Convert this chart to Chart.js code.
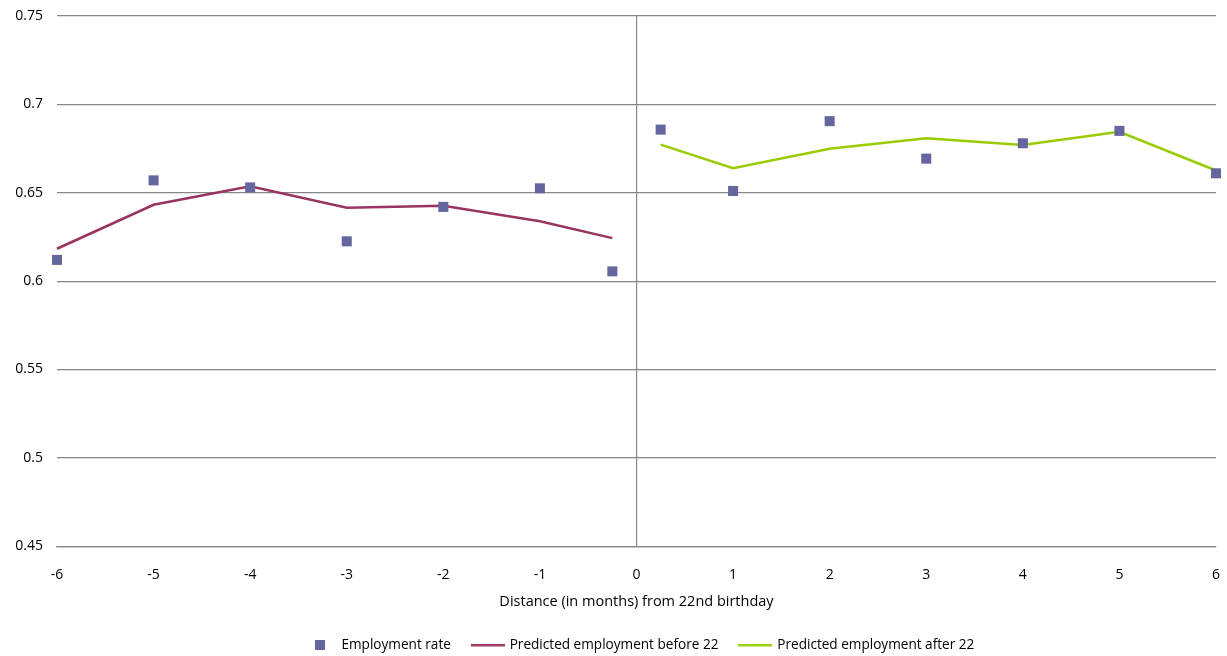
<!DOCTYPE html>
<html>
<head>
<meta charset="utf-8">
<script src="https://cdn.jsdelivr.net/npm/chart.js@4"></script>
<style>
  html, body { margin: 0; padding: 0; background: #ffffff; }
  #wrap { width: 1227px; height: 656px; }
</style>
</head>
<body>
<div id="wrap"><canvas id="chart" width="1227" height="656"></canvas></div>
<script>
// Months relative to the 22nd birthday
const months = [-6, -5, -4, -3, -2, -1, -0.25, 0.25, 1, 2, 3, 4, 5, 6];
const employmentRate = [0.612, 0.657, 0.653, 0.6225, 0.642, 0.6525, 0.6055,
                        0.6857, 0.651, 0.6905, 0.6693, 0.678, 0.685, 0.661];

const monthsBefore = [-6, -5, -4, -3, -2, -1, -0.25];
const predictedBefore = [0.6183, 0.6432, 0.6537, 0.6415, 0.6426, 0.6339, 0.6243];

const monthsAfter = [0.25, 1, 2, 3, 4, 5, 6];
const predictedAfter = [0.6772, 0.6639, 0.6749, 0.6808, 0.677, 0.6845, 0.6626];

const yMin = 0.45, yMax = 0.75, yStep = 0.05;
const xMin = -6, xMax = 6, xStep = 1;

const seriesNames = ['Employment rate', 'Predicted employment before 22', 'Predicted employment after 22'];
const markerColor = '#66669e';
const beforeColor = '#99335f';
const afterColor = '#99cc00';
const gridColor = '#878787';
const fontFamily = '"Open Sans", "Noto Sans", sans-serif';
const fontSize = 14;

const toPoints = (xs, ys) => xs.map((x, i) => ({ x: x, y: ys[i] }));

// Legend swatches: a small square for the scatter series, short strokes for the lines
function makeSwatch(w, h, draw) {
  const cv = document.createElement('canvas');
  cv.width = w; cv.height = h;
  draw(cv.getContext('2d'));
  return cv;
}
const squareSwatch = makeSwatch(10, 10, (c) => { c.fillStyle = markerColor; c.fillRect(0, 0, 10, 10); });
const lineSwatch = (color) => makeSwatch(34, 3, (c) => { c.fillStyle = color; c.fillRect(0, 0, 34, 2.5); });
const legendSwatches = [squareSwatch, lineSwatch(beforeColor), lineSwatch(afterColor)];

// Centre the legend under the plot area rather than the whole canvas
const legendUnderPlot = {
  id: 'legendUnderPlot',
  afterLayout(ch) {
    const lg = ch.legend;
    if (!lg) return;
    const shift = (ch.chartArea.left + ch.chartArea.right) / 2 - (lg.left + lg.right) / 2 + 3;
    lg.left += shift;
    lg.right += shift;
  }
};

const chart = new Chart(document.getElementById('chart'), {
  type: 'scatter',
  plugins: [legendUnderPlot],
  data: {
    datasets: [
      {
        label: seriesNames[0],
        data: toPoints(months, employmentRate),
        showLine: false,
        clip: false,
        pointStyle: 'rect',
        pointRadius: 7.1,
        pointHoverRadius: 7.1,
        pointBackgroundColor: markerColor,
        pointBorderWidth: 0,
        borderColor: markerColor,
        backgroundColor: markerColor
      },
      {
        label: seriesNames[1],
        data: toPoints(monthsBefore, predictedBefore),
        showLine: true,
        clip: false,
        borderColor: beforeColor,
        backgroundColor: beforeColor,
        borderWidth: 2.5,
        pointRadius: 0,
        tension: 0
      },
      {
        label: seriesNames[2],
        data: toPoints(monthsAfter, predictedAfter),
        showLine: true,
        clip: false,
        borderColor: afterColor,
        backgroundColor: afterColor,
        borderWidth: 2.5,
        pointRadius: 0,
        tension: 0
      }
    ]
  },
  options: {
    responsive: false,
    animation: false,
    layout: { padding: { top: 16, right: 11, left: 0, bottom: -6 } },
    plugins: {
      tooltip: { enabled: false },
      legend: {
        position: 'bottom',
        labels: {
          usePointStyle: true,
          pointStyleWidth: 30,
          boxHeight: 10,
          padding: 22,
          color: '#000000',
          font: { family: fontFamily, size: 13.6 },
          generateLabels: function (ch) {
            const items = Chart.defaults.plugins.legend.labels.generateLabels(ch);
            items.forEach(function (it) {
              it.pointStyle = legendSwatches[it.datasetIndex];
            });
            return items;
          }
        }
      }
    },
    scales: {
      x: {
        type: 'linear',
        min: xMin,
        max: xMax,
        ticks: {
          stepSize: xStep,
          padding: 3,
          color: '#000000',
          font: { family: fontFamily, size: fontSize },
          callback: (v) => String(v)
        },
        grid: {
          drawTicks: true,
          tickLength: 17,
          tickColor: 'rgba(0,0,0,0)',
          lineWidth: 1.2,
          color: (ctx) => (ctx.tick && ctx.tick.value === 0 ? gridColor : 'rgba(0,0,0,0)')
        },
        border: { display: true, color: gridColor, width: 1.2 },
        title: {
          display: true,
          text: 'Distance (in months) from 22nd birthday',
          color: '#000000',
          font: { family: fontFamily, size: 14.5 },
          padding: { top: 7, bottom: 6 }
        }
      },
      y: {
        type: 'linear',
        min: yMin,
        max: yMax,
        afterFit: (scale) => { scale.width = 57; },
        ticks: {
          stepSize: yStep,
          padding: 3,
          color: '#000000',
          font: { family: fontFamily, size: fontSize },
          callback: (v) => String(Number(v.toFixed(2)))
        },
        grid: {
          drawTicks: true,
          tickLength: 11,
          tickColor: 'rgba(0,0,0,0)',
          color: gridColor,
          lineWidth: 1.2
        },
        border: { display: false }
      }
    }
  }
});
</script>
</body>
</html>
